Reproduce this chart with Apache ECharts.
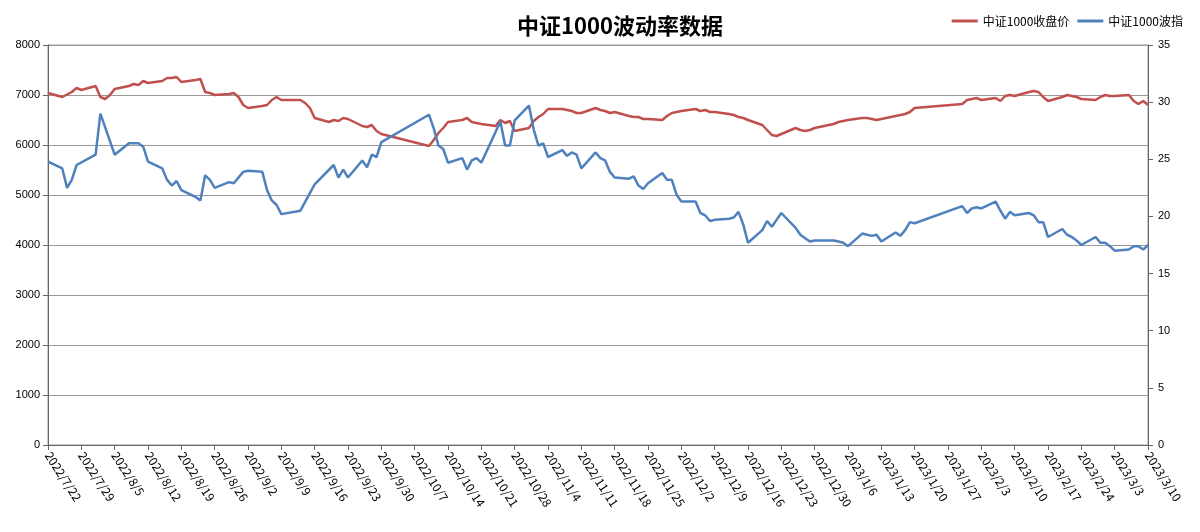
<!DOCTYPE html>
<html><head><meta charset="utf-8">
<script src="https://cdn.jsdelivr.net/npm/echarts@6/dist/echarts.min.js"></script>
<style>html,body{margin:0;padding:0;background:#fff}#c{width:1200px;height:532px}</style>
</head><body><div id="c"></div>
<script>
const redDates=["2022-07-22","2022-07-25","2022-07-27","2022-07-28","2022-07-29","2022-08-01","2022-08-02","2022-08-03","2022-08-04","2022-08-05","2022-08-08","2022-08-09","2022-08-10","2022-08-11","2022-08-12","2022-08-15","2022-08-16","2022-08-17","2022-08-18","2022-08-19","2022-08-22","2022-08-23","2022-08-24","2022-08-25","2022-08-26","2022-08-29","2022-08-30","2022-08-31","2022-09-01","2022-09-02","2022-09-05","2022-09-06","2022-09-07","2022-09-08","2022-09-09","2022-09-13","2022-09-14","2022-09-15","2022-09-16","2022-09-19","2022-09-20","2022-09-21","2022-09-22","2022-09-23","2022-09-26","2022-09-27","2022-09-28","2022-09-29","2022-09-30","2022-10-10","2022-10-11","2022-10-12","2022-10-13","2022-10-14","2022-10-17","2022-10-18","2022-10-19","2022-10-20","2022-10-21","2022-10-24","2022-10-25","2022-10-26","2022-10-27","2022-10-28","2022-10-31","2022-11-01","2022-11-02","2022-11-03","2022-11-04","2022-11-07","2022-11-08","2022-11-09","2022-11-10","2022-11-11","2022-11-14","2022-11-15","2022-11-16","2022-11-17","2022-11-18","2022-11-21","2022-11-22","2022-11-23","2022-11-24","2022-11-25","2022-11-28","2022-11-29","2022-11-30","2022-12-01","2022-12-02","2022-12-05","2022-12-06","2022-12-07","2022-12-08","2022-12-09","2022-12-12","2022-12-13","2022-12-14","2022-12-15","2022-12-16","2022-12-19","2022-12-20","2022-12-21","2022-12-22","2022-12-23","2022-12-26","2022-12-27","2022-12-28","2022-12-29","2022-12-30","2023-01-03","2023-01-04","2023-01-05","2023-01-06","2023-01-09","2023-01-10","2023-01-11","2023-01-12","2023-01-13","2023-01-16","2023-01-17","2023-01-18","2023-01-19","2023-01-20","2023-01-30","2023-01-31","2023-02-01","2023-02-02","2023-02-03","2023-02-06","2023-02-07","2023-02-08","2023-02-09","2023-02-10","2023-02-13","2023-02-14","2023-02-15","2023-02-16","2023-02-17","2023-02-20","2023-02-21","2023-02-22","2023-02-23","2023-02-24","2023-02-27","2023-02-28","2023-03-01","2023-03-02","2023-03-03","2023-03-06","2023-03-07","2023-03-08","2023-03-09","2023-03-10"];
const redValues=[7040,6960,7060,7140,7100,7180,6960,6920,7000,7120,7180,7220,7200,7280,7240,7280,7340,7340,7360,7260,7300,7320,7060,7040,7000,7020,7040,6960,6800,6740,6780,6800,6900,6960,6900,6900,6840,6740,6540,6460,6500,6480,6540,6520,6380,6360,6400,6280,6220,5980,6100,6240,6340,6460,6500,6540,6460,6440,6420,6380,6500,6440,6480,6280,6340,6480,6560,6620,6720,6720,6700,6680,6640,6640,6740,6700,6680,6640,6660,6580,6560,6560,6520,6520,6500,6580,6640,6660,6680,6720,6680,6700,6660,6660,6620,6600,6560,6540,6500,6400,6300,6200,6180,6220,6340,6300,6280,6300,6340,6420,6460,6480,6500,6540,6540,6520,6500,6520,6580,6600,6620,6660,6740,6820,6900,6920,6940,6900,6940,6880,6980,7000,6980,7060,7080,7060,6960,6880,6960,7000,6980,6960,6920,6900,6960,7000,6980,6980,7000,6880,6820,6880,6800];
const blueDates=["2022-07-22","2022-07-25","2022-07-26","2022-07-27","2022-07-28","2022-08-01","2022-08-02","2022-08-05","2022-08-08","2022-08-10","2022-08-11","2022-08-12","2022-08-15","2022-08-16","2022-08-17","2022-08-18","2022-08-19","2022-08-22","2022-08-23","2022-08-24","2022-08-25","2022-08-26","2022-08-29","2022-08-30","2022-09-01","2022-09-02","2022-09-05","2022-09-06","2022-09-07","2022-09-08","2022-09-09","2022-09-13","2022-09-16","2022-09-20","2022-09-21","2022-09-22","2022-09-23","2022-09-26","2022-09-27","2022-09-28","2022-09-29","2022-09-30","2022-10-10","2022-10-11","2022-10-12","2022-10-13","2022-10-14","2022-10-17","2022-10-18","2022-10-19","2022-10-20","2022-10-21","2022-10-25","2022-10-26","2022-10-27","2022-10-28","2022-10-31","2022-11-01","2022-11-02","2022-11-03","2022-11-04","2022-11-07","2022-11-08","2022-11-09","2022-11-10","2022-11-11","2022-11-14","2022-11-15","2022-11-16","2022-11-17","2022-11-18","2022-11-21","2022-11-22","2022-11-23","2022-11-24","2022-11-25","2022-11-28","2022-11-29","2022-11-30","2022-12-01","2022-12-02","2022-12-05","2022-12-06","2022-12-07","2022-12-08","2022-12-09","2022-12-12","2022-12-13","2022-12-14","2022-12-15","2022-12-16","2022-12-19","2022-12-20","2022-12-21","2022-12-22","2022-12-23","2022-12-26","2022-12-27","2022-12-28","2022-12-29","2022-12-30","2023-01-03","2023-01-04","2023-01-05","2023-01-06","2023-01-09","2023-01-10","2023-01-11","2023-01-12","2023-01-13","2023-01-16","2023-01-17","2023-01-18","2023-01-19","2023-01-20","2023-01-30","2023-01-31","2023-02-01","2023-02-02","2023-02-03","2023-02-06","2023-02-07","2023-02-08","2023-02-09","2023-02-10","2023-02-13","2023-02-14","2023-02-15","2023-02-16","2023-02-17","2023-02-20","2023-02-21","2023-02-22","2023-02-23","2023-02-24","2023-02-27","2023-02-28","2023-03-01","2023-03-02","2023-03-03","2023-03-06","2023-03-07","2023-03-08","2023-03-09","2023-03-10"];
const blueValues=[24.8,24.2,22.5,23.2,24.5,25.4,29.0,25.4,26.4,26.4,26.1,24.8,24.2,23.2,22.7,23.1,22.3,21.7,21.4,23.6,23.2,22.5,23.0,22.9,23.9,24.0,23.9,22.3,21.4,21.0,20.2,20.5,22.8,24.5,23.4,24.1,23.4,24.9,24.3,25.4,25.2,26.5,28.9,27.7,26.2,25.9,24.7,25.1,24.1,24.9,25.1,24.7,28.3,26.2,26.2,28.4,29.7,27.6,26.2,26.4,25.2,25.8,25.3,25.6,25.4,24.2,25.6,25.1,24.9,23.9,23.4,23.3,23.5,22.7,22.4,22.9,23.8,23.2,23.2,21.9,21.3,21.3,20.3,20.1,19.6,19.7,19.8,19.9,20.4,19.3,17.7,18.8,19.6,19.1,19.7,20.3,19.0,18.4,18.1,17.8,17.9,17.9,17.8,17.7,17.4,18.5,18.4,18.3,18.4,17.8,18.6,18.3,18.8,19.5,19.4,20.9,20.3,20.7,20.8,20.7,21.3,20.5,19.8,20.4,20.1,20.3,20.1,19.5,19.5,18.2,18.9,18.4,18.2,17.9,17.5,18.2,17.7,17.7,17.4,17.0,17.1,17.4,17.4,17.1,17.5];

const start=Date.UTC(2022,6,22), DAY=86400000;
const dayOf=s=>{const p=s.split('-').map(Number);return Math.round((Date.UTC(p[0],p[1]-1,p[2])-start)/DAY);};
const redData=redDates.map((d,i)=>[dayOf(d),redValues[i]]);
const blueData=blueDates.map((d,i)=>[dayOf(d),blueValues[i]]);
const fmt=v=>{const d=new Date(start+v*DAY);return d.getUTCFullYear()+'/'+(d.getUTCMonth()+1)+'/'+d.getUTCDate();};

const chart=echarts.init(document.getElementById('c'));
chart.setOption({
  backgroundColor:'#fff',
  animation:false,
  title:{text:'中证1000波动率数据',left:615,top:10,textAlign:'center',textStyle:{fontFamily:'Noto Sans CJK SC',fontSize:22,fontWeight:'bold',color:'#000'}},
  legend:{right:12,top:10,itemWidth:26,itemHeight:3,icon:'rect',textStyle:{fontFamily:'Noto Sans CJK SC',fontSize:12,color:'#000'},
    data:['中证1000收盘价','中证1000波指']},
  grid:{left:48,right:52,top:45,bottom:87,show:true,borderColor:'#999',borderWidth:1},
  xAxis:{type:'value',min:0,max:231,interval:7,
    axisLine:{onZero:false,lineStyle:{color:'#666'}},axisTick:{show:true,lineStyle:{color:'#666'}},splitLine:{show:false},
    axisLabel:{rotate:-57,formatter:fmt,fontSize:12,color:'#000',fontFamily:'Noto Sans CJK SC',margin:8}},
  yAxis:[
    {type:'value',min:0,max:8000,interval:1000,axisLine:{show:true,lineStyle:{color:'#666'}},axisTick:{show:true},
     splitLine:{lineStyle:{color:'#999'}},axisLabel:{fontSize:11,color:'#000',formatter:v=>String(v)}},
    {type:'value',min:0,max:35,interval:5,position:'right',axisLine:{show:true,lineStyle:{color:'#666'}},axisTick:{show:true},
     splitLine:{show:false},axisLabel:{fontSize:11,color:'#000',margin:10}}
  ],
  series:[
    {name:'中证1000收盘价',type:'line',data:redData,yAxisIndex:0,showSymbol:false,lineStyle:{color:'#c0504d',width:2.5},itemStyle:{color:'#c0504d'}},
    {name:'中证1000波指',type:'line',data:blueData,yAxisIndex:1,showSymbol:false,lineStyle:{color:'#4f81bd',width:2.5},itemStyle:{color:'#4f81bd'}}
  ]
});
</script></body></html>
